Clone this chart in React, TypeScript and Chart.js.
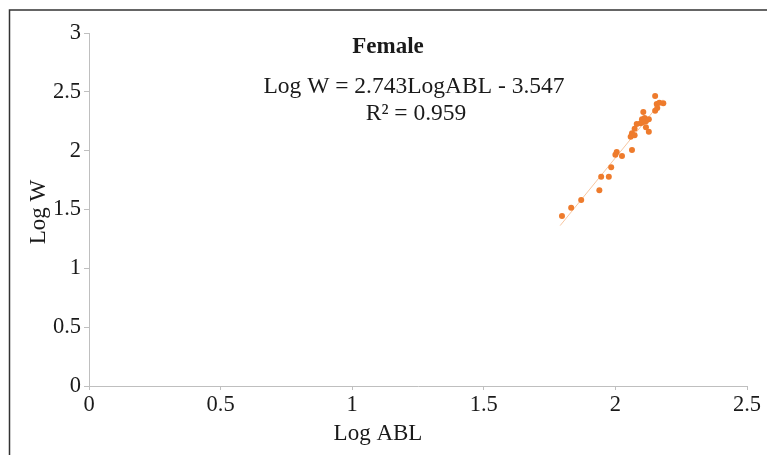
import React, { useEffect, useRef } from "react";
import { Chart, registerables } from "chart.js";

Chart.register(...registerables);

const chartTitle = "Female";
const equationText = "Log W = 2.743LogABL - 3.547";
const r2Text = "R² = 0.959";
const xAxisTitle = "Log ABL";
const yAxisTitle = "Log W";

const logABL = [
  2.151, 2.157, 2.167, 2.182, 2.151, 2.159, 2.106, 2.101, 2.111, 2.127, 2.116,
  2.081, 2.096, 2.106, 2.073, 2.116, 2.127, 2.063, 2.058, 2.073, 2.063, 2.005,
  2.0, 2.025, 1.984, 1.946, 1.975, 1.939, 1.87, 1.832, 1.797,
];
const logW = [
  2.465, 2.397, 2.408, 2.403, 2.34, 2.363, 2.329, 2.267, 2.278, 2.267, 2.25,
  2.227, 2.233, 2.244, 2.187, 2.199, 2.161, 2.148, 2.119, 2.131, 2.006, 1.989,
  1.966, 1.955, 1.859, 1.779, 1.779, 1.663, 1.581, 1.515, 1.445,
];
const trendX = [1.79, 2.18];
const trendY = [1.363, 2.433];

const SERIF = "'Liberation Serif', 'Times New Roman', serif";

const decorPlugin = {
  id: "decor",
  afterDraw(chart: any) {
    const ctx = chart.ctx as CanvasRenderingContext2D;
    ctx.save();
    ctx.strokeStyle = "#333333";
    ctx.lineWidth = 1.5;
    ctx.beginPath();
    ctx.moveTo(9.5, 455);
    ctx.lineTo(9.5, 10);
    ctx.lineTo(767, 10);
    ctx.stroke();

    ctx.fillStyle = "#1a1a1a";
    ctx.textAlign = "center";
    ctx.textBaseline = "alphabetic";
    ctx.font = `bold 23px ${SERIF}`;
    ctx.fillText(chartTitle, 388, 53);
    ctx.font = `23.5px ${SERIF}`;
    ctx.fillText(equationText, 414, 93);
    ctx.fillText(r2Text, 416, 120);
    ctx.font = `23px ${SERIF}`;
    ctx.fillText(xAxisTitle, 378, 440);

    ctx.translate(45, 212);
    ctx.rotate(-Math.PI / 2);
    ctx.fillText(yAxisTitle, 0, 0);
    ctx.restore();
  },
};

export default function App() {
  const ref = useRef<HTMLCanvasElement | null>(null);

  useEffect(() => {
    document.body.style.margin = "0";
    document.body.style.overflow = "hidden";
    const canvas = ref.current;
    if (!canvas) return;
    const points = logABL.map((x, i) => ({ x, y: logW[i] }));
    const trend = trendX.map((x, i) => ({ x, y: trendY[i] }));
    const chart = new Chart(canvas, {
      type: "scatter",
      data: {
        datasets: [
          {
            type: "line",
            data: trend,
            borderColor: "#f7c6a0",
            borderWidth: 1,
            pointRadius: 0,
            fill: false,
            order: 2,
          },
          {
            data: points,
            backgroundColor: "#ee7b2c",
            borderColor: "#ee7b2c",
            pointRadius: 3,
            borderWidth: 0,
            order: 1,
          },
        ],
      },
      options: {
        responsive: false,
        animation: false,
        devicePixelRatio: 1,
        layout: { padding: { left: 0, top: 33, right: 22, bottom: 0 } },
        plugins: {
          legend: { display: false },
          tooltip: { enabled: false },
          title: { display: false },
        },
        scales: {
          x: {
            type: "linear",
            min: 0,
            max: 2.5,
            afterFit: (s: any) => {
              s.height = 69;
            },
            border: { display: true, color: "#bfbfbf", width: 1 },
            grid: {
              display: true,
              drawOnChartArea: false,
              drawTicks: true,
              tickLength: 4,
              color: "#bfbfbf",
            },
            ticks: {
              stepSize: 0.5,
              padding: 2,
              color: "#1a1a1a",
              font: { family: SERIF, size: 22.5 },
              maxRotation: 0,
              callback: (v: any) => String(v),
            },
          },
          y: {
            type: "linear",
            min: 0,
            max: 3,
            afterFit: (s: any) => {
              s.width = 89;
            },
            border: { display: true, color: "#bfbfbf", width: 1 },
            grid: {
              display: true,
              drawOnChartArea: false,
              drawTicks: true,
              tickLength: 5,
              color: "#bfbfbf",
            },
            ticks: {
              stepSize: 0.5,
              padding: 3,
              color: "#1a1a1a",
              font: { family: SERIF, size: 22.5 },
              callback: (v: any) => String(v),
            },
          },
        },
      },
      plugins: [decorPlugin],
    });
    return () => chart.destroy();
  }, []);

  return (
    <div style={{ width: 769, height: 455, background: "#ffffff" }}>
      <canvas ref={ref} width={769} height={455} style={{ display: "block" }} />
    </div>
  );
}
